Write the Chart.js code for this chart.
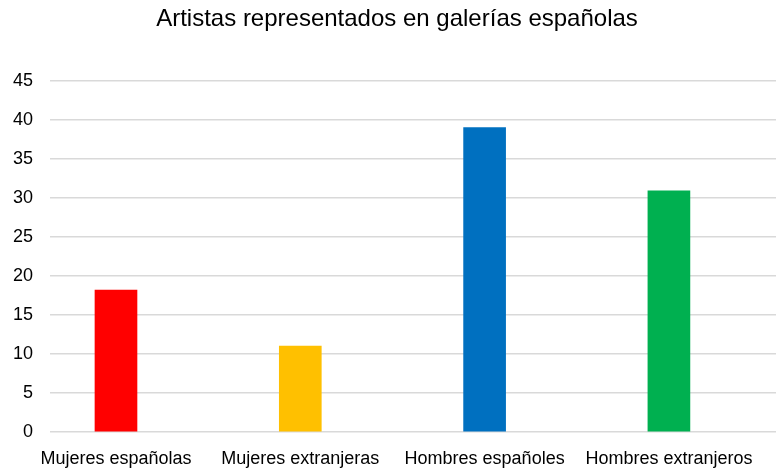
<!DOCTYPE html>
<html>
<head>
<meta charset="utf-8">
<script src="https://cdn.jsdelivr.net/npm/chart.js@4"></script>
<style>
  html, body { margin: 0; padding: 0; background: #fff; }
  #wrap { width: 776px; height: 471px; }
</style>
</head>
<body>
<div id="wrap"><canvas id="chart" width="776" height="471"></canvas></div>
<script>
const chartTitle = "Artistas representados en galerías españolas";
const categories = ["Mujeres españolas", "Mujeres extranjeras", "Hombres españoles", "Hombres extranjeros"];
const values = [18.2, 11, 39, 30.9];
const barColors = ["#ff0000", "#ffc000", "#0070c0", "#00b050"];
const yTicks = [0, 5, 10, 15, 20, 25, 30, 35, 40, 45];

const font = "'Liberation Sans', Arial, sans-serif";

// the title sits a little right of the canvas centre in the original
const shiftTitle = {
  id: "shiftTitle",
  afterLayout(chart) {
    if (chart.titleBlock) chart.titleBlock.left = 18;
  },
};

new Chart(document.getElementById("chart"), {
  type: "bar",
  data: {
    datasets: [{
      data: categories.map((c, i) => ({ x: i, y: values[i] })),
      backgroundColor: barColors,
      barThickness: 42,
    }],
  },
  plugins: [shiftTitle],
  options: {
    responsive: false,
    animation: false,
    layout: { padding: 0 },
    plugins: {
      legend: { display: false },
      tooltip: { enabled: false },
      title: {
        display: true,
        text: chartTitle,
        color: "#000",
        font: { family: font, size: 24, weight: "normal" },
        padding: { top: 5, bottom: 47 },
      },
    },
    scales: {
      x: {
        type: "linear",
        min: -0.358,
        max: 3.581,
        offset: false,
        afterBuildTicks: (scale) => { scale.ticks = categories.map((c, i) => ({ value: i })); },
        afterFit: (scale) => { scale.height = 39; },
        ticks: {
          callback: (v) => categories[v],
          color: "#000",
          font: { family: font, size: 18 },
          maxRotation: 0,
          autoSkip: false,
          padding: 8,
        },
        grid: { display: false },
        border: { display: false },
      },
      y: {
        min: 0,
        max: 45,
        afterBuildTicks: (scale) => { scale.ticks = yTicks.map((v) => ({ value: v })); },
        afterFit: (scale) => { scale.width = 50; },
        ticks: {
          color: "#000",
          font: { family: font, size: 18 },
          padding: 17,
        },
        grid: { color: "#d9d9d9", lineWidth: 1.5, drawTicks: false },
        border: { display: false },
      },
    },
  },
});
</script>
</body>
</html>
